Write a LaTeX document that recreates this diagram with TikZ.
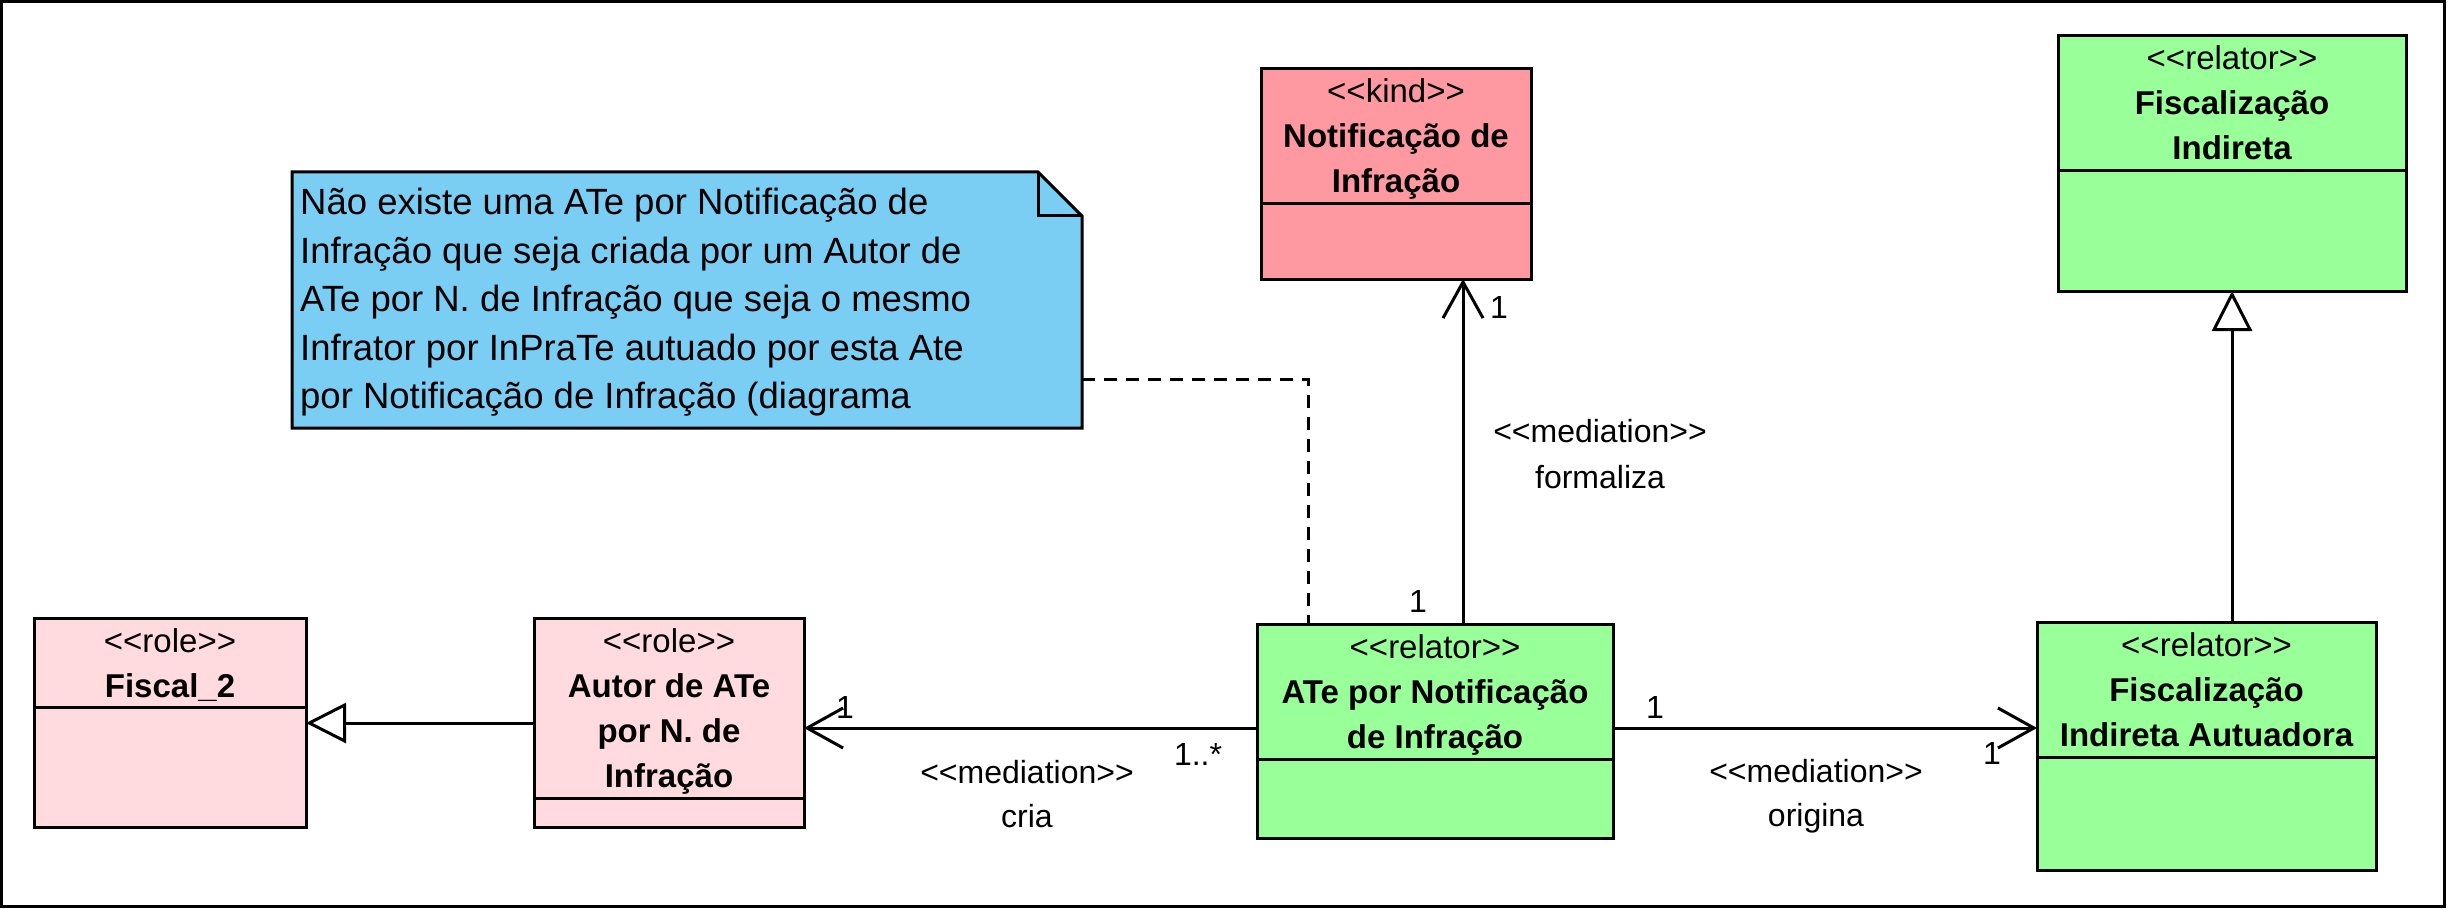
\documentclass[tikz,border=0pt]{standalone}
\usepackage{fontspec}
\setmainfont{Liberation Sans}
\usetikzlibrary{arrows.meta}
\definecolor{kindc}{RGB}{255,153,161}
\definecolor{rolec}{RGB}{255,218,222}
\definecolor{relc}{RGB}{153,255,153}
\definecolor{notec}{RGB}{122,205,243}
\newcommand{\clsfont}{\fontsize{33}{40}\selectfont}
\newcommand{\lblfont}{\fontsize{32}{40}\selectfont}
\newcommand{\notefont}{\fontsize{36.5}{48}\selectfont}
\newcommand{\stt}[1]{<{}<#1>{}>}
\begin{document}
\begin{tikzpicture}[x=1pt,y=-1pt,
  box/.style={draw, line width=3pt, inner sep=0pt, outer sep=0pt, anchor=north west},
  divline/.style={line width=3pt},
  stereo/.style={inner sep=0pt, anchor=base, font=\clsfont},
  cname/.style={inner sep=0pt, anchor=base, font=\clsfont\bfseries},
  lbl/.style={inner sep=0pt, anchor=base, font=\lblfont},
  notetxt/.style={inner sep=0pt, anchor=base west, font=\notefont},
  med/.style={line width=3pt, -{Straight Barb[length=36pt,width=40pt,line width=3pt]}},
  gen/.style={line width=3pt, -{Triangle[fill=white,length=40pt,width=40pt,line width=3pt]}},
  notelink/.style={line width=3pt, dash pattern=on 13pt off 9pt}
]
\useasboundingbox (0,0) rectangle (2448,909);
\draw[line width=3pt] (1.5,1.5) rectangle (2444,906);

% ---- note ----
\node[anchor=north west, minimum width=790pt, minimum height=256pt, inner sep=0pt, outer sep=0pt] (note) at (292,172) {};
\draw[line width=3pt, fill=notec, line join=miter] (note.north west) -- ([xshift=-44pt]note.north east) -- ([yshift=-44pt]note.north east) -- (note.south east) -- (note.south west) -- cycle;
\draw[line width=3pt] ([xshift=-44pt]note.north east) |- ([yshift=-44pt]note.north east);
\node[notetxt] (nt1) at (300,215) {Não existe uma ATe por Notificação de};
\node[notetxt] (nt2) at (300,263) {Infração que seja criada por um Autor de};
\node[notetxt] (nt3) at (300,311) {ATe por N. de Infração que seja o mesmo};
\node[notetxt] (nt4) at (300,360) {Infrator por InPraTe autuado por esta Ate};
\node[notetxt] (nt5) at (300,408) {por Notificação de Infração (diagrama};

% ---- classes ----
\node[box, fill=rolec, minimum width=272pt, minimum height=209pt] (fiscal) at (34,618) {};
\draw[divline] ([yshift=-89pt]fiscal.north west) -- ([yshift=-89pt]fiscal.north east);
\node[stereo] (fiscal-s) at ([yshift=-34pt]fiscal.north) {\stt{role}};
\node[cname] (fiscal-n) at ([yshift=-79pt]fiscal.north) {Fiscal\_2};

\node[box, fill=rolec, minimum width=270pt, minimum height=209pt] (autor) at (534,618) {};
\draw[divline] ([yshift=-180pt]autor.north west) -- ([yshift=-180pt]autor.north east);
\node[stereo] (autor-s) at ([yshift=-34pt]autor.north) {\stt{role}};
\node[cname] (autor-n1) at ([yshift=-79pt]autor.north) {Autor de ATe};
\node[cname] (autor-n2) at ([yshift=-124pt]autor.north) {por N. de};
\node[cname] (autor-n3) at ([yshift=-169pt]autor.north) {Infração};

\node[box, fill=kindc, minimum width=270pt, minimum height=210pt] (notif) at (1261,69) {};
\draw[divline] ([yshift=-135pt]notif.north west) -- ([yshift=-135pt]notif.north east);
\node[stereo] (notif-s) at ([yshift=-34pt]notif.north) {\stt{kind}};
\node[cname] (notif-n1) at ([yshift=-79pt]notif.north) {Notificação de};
\node[cname] (notif-n2) at ([yshift=-124pt]notif.north) {Infração};

\node[box, fill=relc, minimum width=348pt, minimum height=255pt] (fisind) at (2058,36) {};
\draw[divline] ([yshift=-135pt]fisind.north west) -- ([yshift=-135pt]fisind.north east);
\node[stereo] (fisind-s) at ([yshift=-34pt]fisind.north) {\stt{relator}};
\node[cname] (fisind-n1) at ([yshift=-79pt]fisind.north) {Fiscalização};
\node[cname] (fisind-n2) at ([yshift=-124pt]fisind.north) {Indireta};

\node[box, fill=relc, minimum width=356pt, minimum height=214pt] (ate) at (1257,624) {};
\draw[divline] ([yshift=-135pt]ate.north west) -- ([yshift=-135pt]ate.north east);
\node[stereo] (ate-s) at ([yshift=-34pt]ate.north) {\stt{relator}};
\node[cname] (ate-n1) at ([yshift=-79pt]ate.north) {ATe por Notificação};
\node[cname] (ate-n2) at ([yshift=-124pt]ate.north) {de Infração};

\node[box, fill=relc, minimum width=339pt, minimum height=248pt] (autu) at (2037,622) {};
\draw[divline] ([yshift=-135pt]autu.north west) -- ([yshift=-135pt]autu.north east);
\node[stereo] (autu-s) at ([yshift=-34pt]autu.north) {\stt{relator}};
\node[cname] (autu-n1) at ([yshift=-79pt]autu.north) {Fiscalização};
\node[cname] (autu-n2) at ([yshift=-124pt]autu.north) {Indireta Autuadora};

% ---- connectors ----
\coordinate (g1) at (0,723);
\coordinate (m1) at (0,728);
\coordinate (m2) at (1463,0);
\coordinate (g2) at (2232,0);
\coordinate (d1) at (1308,379);

\draw[gen] (autor.west |- g1) -- (fiscal.east |- g1);
\draw[med] (ate.west |- m1) -- (autor.east |- m1);
\draw[med] (ate.east |- m1) -- (autu.west |- m1);
\draw[med] (ate.north -| m2) -- (notif.south -| m2);
\draw[gen] (autu.north -| g2) -- (fisind.south -| g2);
\draw[notelink] (note.east |- d1) -- (d1) -- (ate.north -| d1);

% ---- labels ----
\node[lbl] (c-m1) at (845,718) {1};
\node[lbl] (c-m2) at (1198,765) {1..*};
\node[lbl] (c-s1) at (1027,783) {\stt{mediation}};
\node[lbl] (c-s2) at (1027,827) {cria};

\node[lbl] (f-m1) at (1499,318) {1};
\node[lbl] (f-m2) at (1418,612) {1};
\node[lbl] (f-s1) at (1600,442) {\stt{mediation}};
\node[lbl] (f-s2) at (1600,488) {formaliza};

\node[lbl] (o-m1) at (1655,718) {1};
\node[lbl] (o-m2) at (1992,764) {1};
\node[lbl] (o-s1) at (1816,782) {\stt{mediation}};
\node[lbl] (o-s2) at (1816,826) {origina};
\end{tikzpicture}
\end{document}
